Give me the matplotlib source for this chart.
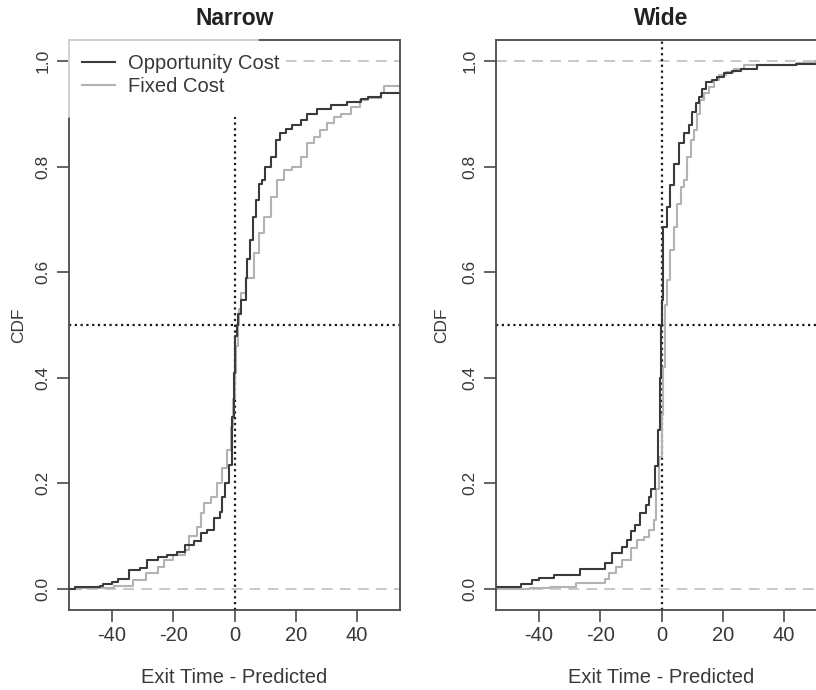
import matplotlib
matplotlib.use('Agg')
import matplotlib.pyplot as plt
from matplotlib.lines import Line2D
from matplotlib.patches import Rectangle

plt.rcParams['font.family'] = 'Liberation Sans'

# Step locations (exit time - predicted) and the CDF level reached at each step
narrow_opp_x = [-52, -44, -43, -40, -38, -34.5, -30.7, -28.5, -25, -22, -18.7, -16, -13.3, -11, -9,
                -6.8, -4.6, -4, -3, -1.9, -0.8, -0.3, 0.3, 0.8, 1.2, 2.0, 3.6, 4.2, 5.2, 6.0, 6.9,
                8.0, 9.0, 10.0, 11.8, 13.4, 15.0, 16.7, 18.8, 21.6, 23.7, 27.0, 31.4, 36.8, 41.2,
                43.4, 47.7]
narrow_opp_y = [0.003, 0.005, 0.009, 0.014, 0.019, 0.036, 0.039, 0.054, 0.061, 0.064, 0.070, 0.083,
                0.090, 0.105, 0.112, 0.134, 0.146, 0.175, 0.200, 0.235, 0.326, 0.41, 0.48, 0.50,
                0.52, 0.547, 0.59, 0.626, 0.661, 0.705, 0.737, 0.768, 0.775, 0.800, 0.819, 0.850,
                0.863, 0.872, 0.879, 0.888, 0.900, 0.910, 0.917, 0.923, 0.929, 0.932, 0.940]

narrow_fix_x = [-50, -39.4, -33, -29, -25, -23, -20, -16, -15, -12.2, -11, -10, -7.8, -5.7, -4,
                -2.4, -1.3, -0.6, 0.0, 0.6, 1.0, 1.5, 2.0, 3.6, 6.3, 8.0, 9.6, 11.8, 14.0, 16.0,
                18.8, 21.6, 23.7, 26.0, 28.0, 30.3, 32.5, 34.6, 38.0, 41.0, 43.4, 47.7, 48.8]
narrow_fix_y = [0.002, 0.005, 0.017, 0.030, 0.042, 0.055, 0.064, 0.074, 0.100, 0.118, 0.143, 0.162,
                0.175, 0.200, 0.229, 0.263, 0.307, 0.36, 0.41, 0.46, 0.50, 0.53, 0.56, 0.59, 0.636,
                0.674, 0.705, 0.743, 0.775, 0.794, 0.800, 0.819, 0.844, 0.857, 0.869, 0.882, 0.895,
                0.900, 0.913, 0.926, 0.930, 0.940, 0.953]

wide_opp_x = [-60, -46, -42.3, -40, -35.2, -26.5, -18.3, -16.1, -12.9, -11.2, -10.1, -8.5, -6.9,
              -5.2, -4.1, -3.4, -2.2, -1.2, -0.5, -0.2, 0.0, 0.6, 1.9, 2.9, 4.0, 5.7, 7.3, 8.9,
              10.0, 11.1, 12.2, 13.3, 14.4, 16.6, 18.2, 20.4, 23.0, 25.8, 31.3, 44.0]
wide_opp_y = [0.003, 0.009, 0.016, 0.021, 0.027, 0.037, 0.049, 0.068, 0.080, 0.093, 0.109, 0.121,
              0.143, 0.159, 0.175, 0.190, 0.232, 0.301, 0.40, 0.50, 0.547, 0.686, 0.724, 0.765,
              0.806, 0.844, 0.863, 0.879, 0.904, 0.920, 0.932, 0.948, 0.961, 0.964, 0.970, 0.977,
              0.982, 0.986, 0.992, 0.995]

wide_fix_x = [-42.8, -36.3, -28, -18.3, -17.2, -15, -12.9, -10, -8, -5.8, -4.1, -2.5, -1.8, -0.9,
              0.0, 0.5, 1.0, 1.9, 2.9, 4.0, 5.1, 6.2, 7.3, 8.4, 9.5, 10.6, 11.7, 12.7, 13.8, 15.5,
              17.1, 18.7, 20.9, 23.6, 26.9, 44.3, 50.0]
wide_fix_y = [0.001, 0.004, 0.011, 0.018, 0.030, 0.042, 0.055, 0.077, 0.093, 0.099, 0.112, 0.131,
              0.19, 0.25, 0.33, 0.42, 0.538, 0.585, 0.642, 0.686, 0.730, 0.762, 0.775, 0.819,
              0.850, 0.869, 0.900, 0.926, 0.939, 0.951, 0.964, 0.973, 0.980, 0.986, 0.992, 0.996,
              1.0]

panels = [
    ('Narrow', narrow_opp_x, narrow_opp_y, narrow_fix_x, narrow_fix_y),
    ('Wide', wide_opp_x, wide_opp_y, wide_fix_x, wide_fix_y),
]

dark = '#3a3a3a'
light = '#b3b3b3'
text_col = '#383838'
frame_col = '#4a4a4a'


def ecdf_step(ax, xs, ys, color):
    x = [-70] + xs + [70]
    y = [0] + ys + [ys[-1]]
    ax.step(x, y, where='post', color=color, lw=1.5, zorder=2)


fig = plt.figure(figsize=(8.16, 6.9), dpi=100)
ax_left = fig.add_axes([69 / 816, 1 - 610 / 690, 331 / 816, 570 / 690])
ax_right = fig.add_axes([496 / 816, 1 - 610 / 690, 331 / 816, 570 / 690])

for ax, (title, ox, oy, fx, fy) in zip([ax_left, ax_right], panels):
    # reference lines
    ax.axhline(0, color='#c4c4c4', lw=1.3, ls=(0, (6, 4)), zorder=1)
    ax.axhline(1, color='#c4c4c4', lw=1.3, ls=(0, (6, 4)), zorder=1)
    ax.axhline(0.5, color='#1a1a1a', lw=1.6, ls=(0, (1, 1.6)), zorder=1)
    ax.axvline(0, color='#1a1a1a', lw=1.6, ls=(0, (1, 1.6)), zorder=1)

    ecdf_step(ax, fx, fy, light)
    ecdf_step(ax, ox, oy, dark)

    ax.set_xlim(-54, 54)
    ax.set_ylim(-0.04, 1.04)
    ax.set_xticks([-40, -20, 0, 20, 40])
    ax.set_xticklabels(['-40', '-20', '0', '20', '40'])
    ax.set_yticks([0, 0.2, 0.4, 0.6, 0.8, 1.0])
    ax.set_yticklabels(['0.0', '0.2', '0.4', '0.6', '0.8', '1.0'], rotation=90, va='center')
    ax.tick_params(axis='x', length=8.5, width=1.2, color=frame_col, labelcolor=text_col,
                   labelsize=14.5, pad=3)
    ax.tick_params(axis='y', length=8.5, width=1.2, color=frame_col, labelcolor=text_col,
                   labelsize=12.5, pad=5)
    for sp in ax.spines.values():
        sp.set_color(frame_col)
        sp.set_linewidth(1.3)

    ax.set_title(title, fontsize=16.5, fontweight='bold', color='#222222', pad=11)
    ax.set_xlabel('Exit Time - Predicted', fontsize=14.5, color=text_col)
    ax.xaxis.label.set_va('center')
    ax.xaxis.set_label_coords(0.5, -0.118)
    ax.set_ylabel('CDF', fontsize=12.5, color=text_col)
    ax.yaxis.label.set_va('center')

ax_left.yaxis.set_label_coords(-0.151, 0.5)
ax_right.yaxis.set_label_coords(-0.163, 0.5)

# white legend box sitting over the top-left corner of the frame
ax_left.add_patch(Rectangle((-54.4, 0.894), 62.2, 0.156, facecolor='white', edgecolor='none',
                            zorder=3, clip_on=False))
ax_left.add_patch(Rectangle((-54.4, 0.894), 71.1, 0.138, facecolor='white', edgecolor='none',
                            zorder=3, clip_on=False))
ax_left.plot([-54, 7.8], [1.04, 1.04], color='#c8c8c8', lw=1.2, clip_on=False, zorder=3.5)
ax_left.plot([-54, -54], [0.894, 1.04], color='#c8c8c8', lw=1.2, clip_on=False, zorder=3.5)

handles = [Line2D([], [], color=dark, lw=1.5), Line2D([], [], color=light, lw=1.5)]
leg = ax_left.legend(handles, ['Opportunity Cost', 'Fixed Cost'], loc='upper left',
                     bbox_to_anchor=(0.039, 0.975), frameon=False, fontsize=14.5,
                     handlelength=1.65, handletextpad=0.62, labelspacing=0.2,
                     borderpad=0, borderaxespad=0)
leg.set_zorder(4)
for t in leg.get_texts():
    t.set_color(text_col)

plt.savefig('out.png', dpi=100)
